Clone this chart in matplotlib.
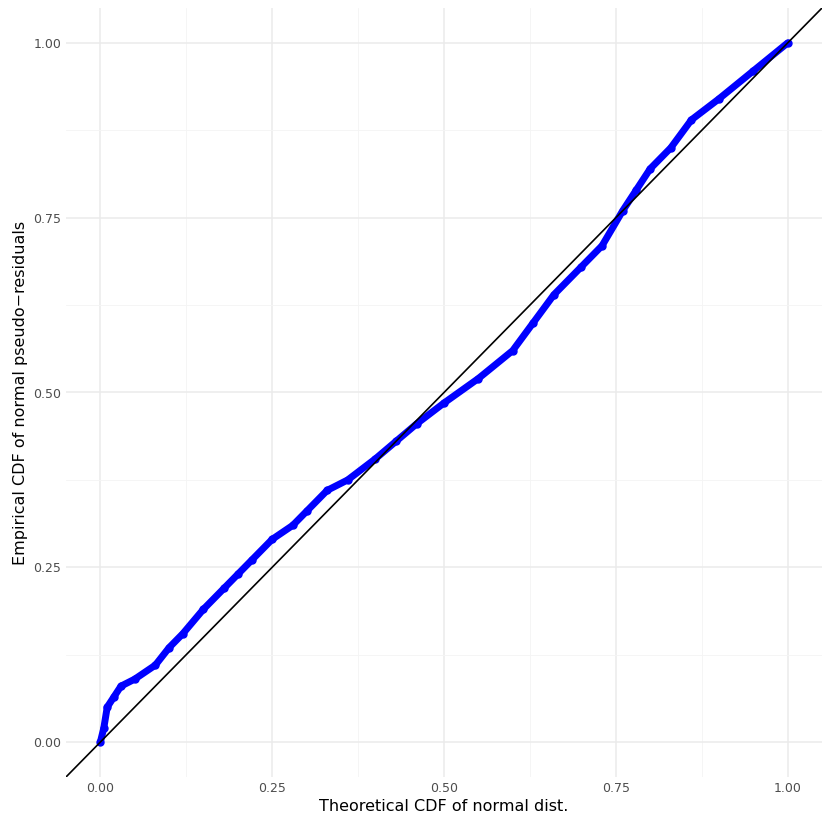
import matplotlib
matplotlib.use("Agg")
import matplotlib.pyplot as plt
import numpy as np

theoretical = [0.0, 0.005, 0.01, 0.02, 0.03, 0.05, 0.08, 0.10, 0.12, 0.15, 0.18, 0.20, 0.22,
               0.25, 0.28, 0.30, 0.33, 0.36, 0.40, 0.43, 0.46, 0.50, 0.55, 0.60, 0.63, 0.66,
               0.70, 0.73, 0.76, 0.78, 0.80, 0.83, 0.86, 0.90, 0.95, 1.0]
empirical = [0.0, 0.02, 0.05, 0.065, 0.08, 0.09, 0.11, 0.135, 0.155, 0.19, 0.22, 0.24, 0.26,
             0.29, 0.31, 0.33, 0.36, 0.375, 0.405, 0.43, 0.455, 0.485, 0.52, 0.56, 0.60, 0.64,
             0.68, 0.71, 0.76, 0.79, 0.82, 0.85, 0.89, 0.92, 0.96, 1.0]
ticks = [0.0, 0.25, 0.5, 0.75, 1.0]
tick_labels = ["0.00", "0.25", "0.50", "0.75", "1.00"]

fig = plt.figure(figsize=(8.3, 8.3), dpi=100)
ax = fig.add_axes([66/830, 53/830, 756/830, 769/830])
ax.set_xlim(-0.05, 1.05)
ax.set_ylim(-0.05, 1.05)
for s in ax.spines.values():
    s.set_visible(False)
ax.set_xticks(ticks)
ax.set_yticks(ticks)
ax.set_xticklabels(tick_labels)
ax.set_yticklabels(tick_labels)
ax.set_xticks([0.125, 0.375, 0.625, 0.875], minor=True)
ax.set_yticks([0.125, 0.375, 0.625, 0.875], minor=True)
ax.grid(True, which="major", color="#ebebeb", lw=1.1)
ax.grid(True, which="minor", color="#f4f4f4", lw=0.6)
ax.tick_params(which="both", length=0, labelsize=9, colors="#4d4d4d")
ax.set_axisbelow(True)

ax.plot(theoretical, empirical, color="blue", lw=5, solid_capstyle="round", zorder=2)
ax.scatter(theoretical, empirical, color="blue", s=25, zorder=2)
ax.axline((0, 0), (1, 1), color="black", lw=1.2, zorder=3)

ax.set_xlabel("Theoretical CDF of normal dist.", fontsize=11.5, labelpad=3)
ax.set_ylabel("Empirical CDF of normal pseudo\u2212residuals", fontsize=11.5, labelpad=4)
fig.savefig("out.png", dpi=100)
